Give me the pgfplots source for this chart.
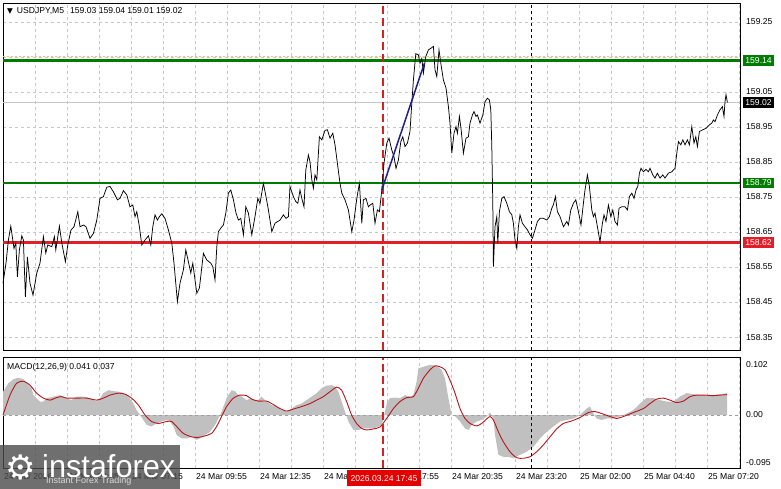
\documentclass[border=0pt]{standalone}
\usepackage{pgfplots}
\pgfplotsset{compat=1.18}
\usepackage{fontspec}
\setmainfont{Liberation Sans}
\newfontfamily\dejavu{DejaVu Sans}
\usepackage{graphicx}

\definecolor{gridc}{RGB}{200,200,200}
\definecolor{lvlgreen}{RGB}{0,125,0}
\definecolor{lvlred}{RGB}{228,30,40}
\definecolor{macdgray}{RGB}{192,192,192}
\definecolor{sigred}{RGB}{185,20,25}
\definecolor{trendblue}{RGB}{30,30,140}
\definecolor{cursorred}{RGB}{210,35,35}
\definecolor{logogray}{RGB}{75,75,75}

\pgfplotsset{
  mtpanel/.style={
    scale only axis, width=737pt,
    xmin=0, xmax=368.5,
    axis line style={black, line width=0.8pt},
    major tick length=0pt,
    xtick={0,16,...,368},
    grid style={gridc, dash pattern=on 3pt off 3pt, line width=0.6pt},
    xmajorgrids=true,
    yticklabel pos=right,
    yticklabel style={anchor=west, inner sep=0pt, xshift=6pt},
    clip=false,
  }
}

\begin{document}
\begin{tikzpicture}[font=\fontsize{8.6}{10}\selectfont]
\path[use as bounding box] (0,0) rectangle (781pt,-489pt);

% price window
\begin{axis}[mtpanel,
  at={(3pt,-3pt)}, anchor=north west, height=347pt,
  ymin=158.313, ymax=159.304,
  xticklabels={},
  ytick={158.35,158.45,158.55,158.65,158.75,158.85,158.95,159.05,159.15,159.25},
  yticklabels={158.35,158.45,158.55,158.65,158.75,158.85,158.95,159.05,,159.25},
  ymajorgrids=true,
]
% bid line and the faint line above the upper level
\addplot[gray!45, line width=0.5pt] coordinates {(0,159.02) (368.5,159.02)};
\addplot[orange!55, dash pattern=on 2pt off 2pt, line width=0.4pt] coordinates {(0,159.153) (368.5,159.153)};

% levels
\addplot[lvlgreen, line width=2.6pt] coordinates {(0,159.14) (368.5,159.14)};
\addplot[lvlgreen, line width=2.2pt] coordinates {(0,158.79) (368.5,158.79)};
\addplot[lvlred, line width=2.2pt] coordinates {(0,158.62) (368.5,158.62)};

% vertical markers
\addplot[color=cursorred, dash pattern=on 8pt off 4pt, line width=1.1pt] coordinates {(190,158.313) (190,159.304)};
\addplot[black, dash pattern=on 3pt off 3pt, line width=0.6pt] coordinates {(264,158.313) (264,159.304)};

% USDJPY M5 close
\addplot[black, line width=0.75pt] coordinates {
(0,158.504) (1.5,158.561) (2.7,158.627) (3.9,158.667) (4.9,158.627) (5.5,158.603) (6.4,158.619) (7.2,158.522) (8.2,158.599) (9.4,158.639)
(10.2,158.627) (11.2,158.465) (12.2,158.579) (13.5,158.504) (15,158.470) (16.9,158.533) (18.5,158.561) (20.2,158.637) (21.4,158.590) (22.4,158.613)
(24.4,158.608) (25.7,158.637) (26.4,158.599) (28.2,158.667) (29.4,158.619) (31.2,158.565) (32.4,158.613) (34,158.656) (35.5,158.665) (37.4,158.708)
(38.5,158.665) (40.2,158.670) (41.5,158.665) (43.5,158.632) (45.2,158.646) (46.9,158.684) (48.5,158.746) (50.2,158.751) (51.9,158.778) (53.5,158.780)
(55.2,158.765) (57.2,158.742) (58.5,158.746) (60.2,158.768) (61.9,158.756) (63.5,158.722) (64.9,158.727) (66,158.694) (66.9,158.708) (68.2,158.665)
(69.4,158.613) (71,158.627) (72.7,158.639) (73.9,158.613) (74.9,158.665) (76,158.699) (77.2,158.684) (78.2,158.694) (79.4,158.702) (81,158.689)
(82.7,158.656) (84.4,158.618) (85.5,158.561) (87.2,158.451) (88.5,158.504) (90.2,158.542) (91.4,158.599) (92.7,158.565) (93.9,158.533) (94.9,158.561)
(96.9,158.475) (98.2,158.490) (100.2,158.589) (101.9,158.570) (103.9,158.561) (104.9,158.551) (106,158.513) (106.9,158.608) (107.7,158.651) (108.9,158.661)
(110.2,158.670) (111.4,158.704) (112.7,158.761) (113.9,158.770) (115.2,158.742) (116.5,158.704) (117.7,158.684) (118.9,158.689) (120.2,158.642) (121.4,158.722)
(122.7,158.704) (124.4,158.642) (126,158.694) (127.4,158.746) (128.5,158.732) (130.2,158.789) (131.5,158.751) (132.7,158.713) (134.4,158.651) (136,158.675)
(138.5,158.684) (140.2,158.699) (141.5,158.689) (142.7,158.694) (143.5,158.780) (145.2,158.751) (146.4,158.737) (147.4,158.732) (148.5,158.770) (149.4,158.746)
(150.5,158.722) (151.4,158.827) (152.7,158.870) (153.5,158.851) (154.4,158.799) (155.2,158.775) (156,158.813) (156.9,158.799) (158.2,158.922) (159.4,158.913)
(161,158.940) (162.2,158.942) (163.5,158.918) (164.9,158.932) (166,158.899) (167.2,158.846) (168.5,158.789) (169.4,158.761) (171,158.742) (172.7,158.713)
(174.4,158.651) (175.5,158.684) (176.9,158.746) (178.2,158.789) (179.4,158.675) (180.2,158.742) (181.5,158.746) (182.7,158.722) (183.5,158.727) (184.9,158.732)
(186,158.675) (187.2,158.713) (188.2,158.708) (189.4,158.770) (190.5,158.846) (191.9,158.904) (193,158.918) (194.4,158.884) (195.5,158.865) (196.5,158.832)
(197.7,158.856) (198.9,158.908) (199.9,158.922) (201,158.894) (202.2,158.904) (203.5,158.937) (204.4,159.018) (205.2,159.084) (206.4,159.159) (207.7,159.156)
(208.5,159.132) (209.4,159.146) (210.2,159.104) (211.4,159.151) (212.7,159.170) (214,159.175) (215.2,159.180) (216,159.113) (216.9,159.094) (218,159.170)
(218.9,159.132) (220.2,159.084) (221.5,159.061) (222.7,159.008) (223.5,158.961) (224.4,158.875) (225.5,158.932) (226.5,158.951) (227.2,158.932) (228.2,158.980)
(229,158.946) (230.2,158.875) (231.5,158.918) (232.7,158.922) (233.5,158.961) (234.7,158.984) (235.5,158.994) (236.5,158.980) (237.2,158.984) (238.5,158.961)
(239.9,158.984) (241,159.022) (242.2,159.032) (243.2,159.027) (243.9,158.999) (244.4,158.894) (244.9,158.732) (245.2,158.551) (246,158.665) (246.9,158.694)
(247.4,158.618) (248.2,158.708) (249.4,158.746) (250.5,158.751) (251.9,158.732) (253.2,158.708) (254.4,158.699) (255.2,158.675) (256,158.627) (256.9,158.603)
(257.7,158.665) (258.5,158.699) (259.7,158.675) (261,158.665) (262.2,158.656) (263.5,158.642) (264.7,158.632) (266,158.656) (267.2,158.680) (268.5,158.689)
(270.2,158.689) (271.9,158.684) (273.2,158.694) (274.4,158.718) (275.2,158.728) (276.2,158.751) (277.2,158.708) (278.5,158.694) (280.2,158.665) (281.9,158.680)
(282.7,158.670) (283.9,158.713) (285.2,158.732) (286.4,158.742) (287.7,158.708) (289,158.670) (290.2,158.732) (291,158.770) (292.2,158.813) (293.2,158.780)
(294.4,158.713) (295.2,158.694) (296,158.704) (297.2,158.665) (298.5,158.622) (299.7,158.675) (300.5,158.699) (301.5,158.680) (302.7,158.727) (303.9,158.694)
(304.9,158.713) (306,158.680) (307.2,158.670) (308,158.718) (309.4,158.722) (311,158.722) (312.2,158.713) (313.2,158.751) (314.4,158.761) (315.5,158.746)
(316.5,158.770) (317.4,158.780) (318.2,158.818) (319,158.832) (320.2,158.822) (321.5,158.829) (322.7,158.822) (323.5,158.832) (324.9,158.813) (326,158.804)
(327.2,158.818) (328.5,158.804) (329.9,158.813) (331,158.804) (332.7,158.818) (334.4,158.822) (336,158.832) (336.9,158.875) (337.7,158.908) (338.9,158.899)
(339.9,158.913) (341,158.899) (342.2,158.913) (343.2,158.899) (344.4,158.951) (345.5,158.904) (346.4,158.922) (347.2,158.894) (348.2,158.937) (349.9,158.942)
(351.5,158.946) (353.2,158.956) (354.4,158.961) (355.2,158.970) (356,158.965) (357.2,158.984) (358.5,158.999) (359.7,159.008) (360.5,158.980) (361,159.022)
(361.5,159.042) (362.2,159.020)
};

% trend line
\addplot[trendblue, line width=1.5pt] coordinates {(189.4,158.770) (210.7,159.132)};

% price tags on the scale
\node[fill=lvlgreen, text=white, anchor=west, inner xsep=2.5pt, inner ysep=0pt, minimum height=10.5pt, xshift=2.7pt] at (axis cs:368.5,159.14) {159.14};
\node[fill=lvlgreen, text=white, anchor=west, inner xsep=2.5pt, inner ysep=0pt, minimum height=10.5pt, xshift=2.7pt] at (axis cs:368.5,158.79) {158.79};
\node[fill=lvlred, text=white, anchor=west, inner xsep=2.5pt, inner ysep=0pt, minimum height=10.5pt, xshift=2.7pt] at (axis cs:368.5,158.62) {158.62};
\node[fill=black, text=white, anchor=west, inner xsep=2.5pt, inner ysep=0pt, minimum height=10.5pt, xshift=2.7pt] at (axis cs:368.5,159.02) {159.02};

% window title
\node[anchor=north west, inner sep=0pt, xshift=4pt, yshift=-4pt] at (rel axis cs:0,1)
  {{\dejavu\fontsize{7.5}{7.5}\selectfont ▼}\hspace{4pt}USDJPY,M5\hspace{6pt}159.03 159.04 159.01 159.02};
\end{axis}

% MACD window
\begin{axis}[mtpanel,
  at={(3pt,-357.7pt)}, anchor=north west, height=110.6pt,
  ymin=-0.1072, ymax=0.1153,
  ytick={-0.095,0,0.102},
  yticklabels={-0.095,0.00,0.102},
  xticklabels={24 Mar 2026,,24 Mar 04:35,,24 Mar 07:15,,24 Mar 09:55,,24 Mar 12:35,,24 Mar 15:15,,24 Mar 17:55,,24 Mar 20:35,,24 Mar 23:20,,25 Mar 02:00,,25 Mar 04:40,,25 Mar 07:20,},
  xticklabel style={anchor=north west, inner sep=0pt, xshift=1pt, yshift=-5pt},
]
% MACD main (histogram)
\addplot[fill=macdgray, draw=none] coordinates {
(0,0.047) (2.7,0.064) (5.2,0.072) (7.7,0.075) (10.2,0.072) (12.7,0.060) (14.3,0.054) (15.2,0.040) (16.8,0.034) (18.5,0.027)
(20.2,0.027) (21.8,0.034) (25.2,0.037) (28.5,0.040) (31.8,0.034) (34.3,0.030) (36.8,0.037) (40.2,0.037) (43.5,0.034) (46.8,0.027)
(48.5,0.034) (50.2,0.044) (52.7,0.050) (55.2,0.048) (57.7,0.047) (60.2,0.044) (62.7,0.037) (65.2,0.023) (66.8,0.010) (68.5,0)
(70.2,-0.010) (71.8,-0.020) (74.3,-0.023) (76.8,-0.017) (79.3,-0.013) (81.8,-0.010) (83.5,-0.013) (85.2,-0.023) (86.8,-0.040) (89.3,-0.047)
(91.8,-0.047) (94.3,-0.044) (96.8,-0.050) (98.5,-0.047) (101,-0.040) (103.5,-0.034) (106,-0.020) (107.7,-0.007) (109.3,0.007) (111.8,0.034)
(114.3,0.050) (116,0.048) (117.7,0.040) (119.3,0.037) (121.8,0.030) (124.3,0.034) (126.8,0.027) (129.3,0.037) (131.8,0.027) (134.3,0.020)
(136.8,0.017) (139.3,0.010) (141.8,0.007) (144.3,0.013) (146.8,0.020) (149.3,0.023) (151.8,0.030) (154.3,0.037) (156.8,0.044) (159.3,0.054)
(161.8,0.059) (164.3,0.060) (166,0.057) (167.7,0.047) (169.3,0.027) (171,0.007) (172.7,-0.013) (175.2,-0.030) (177.7,-0.030) (180.2,-0.027)
(182.7,-0.027) (185.2,-0.027) (187.7,-0.023) (189,-0.020) (190,-0.012) (191,0.008) (192,0.025) (193.5,0.034) (196,0.035) (198.5,0.034)
(201,0.040) (203.5,0.037) (205.2,0.040) (206.8,0.067) (207.7,0.094) (210.2,0.097) (213.5,0.101) (216.8,0.099) (219.3,0.091) (221,0.074)
(222.7,0.034) (224.3,0) (226,-0.002) (228.5,-0.013) (231,-0.027) (232.7,-0.030) (234.3,-0.020) (236.8,-0.013) (239.3,-0.010) (241.8,-0.003)
(243.5,0.005) (245.2,-0.007) (246,-0.040) (247.7,-0.080) (250.2,-0.084) (252.7,-0.084) (255.2,-0.087) (258.5,-0.080) (261.8,-0.074) (265.2,-0.064)
(268.5,-0.047) (271.8,-0.034) (275.2,-0.023) (278.5,-0.013) (281.8,-0.010) (285.2,-0.007) (288.5,0) (291.8,0.013) (293.5,0.017) (295.2,0.003)
(296.8,-0.007) (299.3,-0.010) (301.8,-0.007) (305.2,-0.007) (308.5,-0.003) (311.8,0.003) (315.2,0.010) (318.5,0.023) (321.8,0.034) (325.2,0.034)
(328.5,0.030) (331.8,0.027) (335.2,0.027) (338.5,0.037) (341.8,0.044) (345.2,0.042) (348.5,0.040) (351.8,0.040) (355.2,0.040) (358.5,0.042)
(362,0.044)
} \closedcycle;

\addplot[gray!75, dash pattern=on 3pt off 3pt, line width=0.6pt] coordinates {(0,0) (368.5,0)};

% signal line
\addplot[sigred, line width=0.9pt, smooth, tension=0.4] coordinates {
(0,0.0) (3.5,0.040) (6.8,0.064) (10.2,0.068) (13.5,0.060) (16.8,0.044) (20.2,0.034) (23.5,0.030) (26.8,0.035) (29.3,0.037)
(31.8,0.034) (36.8,0.034) (41.8,0.034) (46.8,0.030) (50.2,0.034) (53.5,0.040) (57.7,0.044) (61,0.042) (64.3,0.034) (67.7,0.020)
(71,0) (74.3,-0.013) (77.7,-0.017) (81.8,-0.013) (84.3,-0.013) (86.8,-0.023) (90.2,-0.037) (94.3,-0.044) (97.7,-0.045) (101,-0.042)
(104.3,-0.037) (106.8,-0.023) (109.3,-0.003) (111.8,0.017) (115.2,0.034) (118.5,0.040) (121.8,0.039) (124.3,0.032) (127.7,0.028) (131.8,0.028)
(135.2,0.021) (138.5,0.013) (141.8,0.008) (145.2,0.012) (149.3,0.017) (153.5,0.023) (156.8,0.030) (160.2,0.037) (163.5,0.047) (166.8,0.056)
(169.3,0.050) (171.8,0.027) (174.3,0) (176.8,-0.017) (179.3,-0.027) (181.8,-0.030) (185.2,-0.028) (188.5,-0.024) (191.8,-0.007) (195.2,0.013)
(198.5,0.027) (201.8,0.035) (205.2,0.037) (207.7,0.054) (210.2,0.074) (213.5,0.091) (216,0.099) (218.5,0.097) (221,0.091) (223.5,0.070)
(226,0.044) (228.5,0.013) (231,-0.007) (233.5,-0.017) (236.8,-0.022) (239.3,-0.017) (241.8,-0.008) (243.5,-0.003) (245.2,-0.010) (247.7,-0.034)
(250.2,-0.054) (253.5,-0.074) (256.8,-0.086) (260.2,-0.087) (263.5,-0.084) (266.8,-0.074) (270.2,-0.060) (273.5,-0.044) (276.8,-0.028) (280.2,-0.017)
(284.3,-0.012) (288.5,-0.005) (292.7,0.005) (296,0.007) (299.3,0.003) (303.5,-0.003) (306.8,-0.007) (310.2,-0.003) (315.2,0.005) (320.2,0.013)
(323.5,0.023) (326.8,0.032) (330.2,0.034) (333.5,0.030) (336.8,0.025) (340.2,0.028) (343.5,0.037) (346.8,0.040) (351,0.040) (355.2,0.039)
(358.5,0.040) (362,0.041)
};

\addplot[color=cursorred, dash pattern=on 8pt off 4pt, line width=1.1pt] coordinates {(190,-0.1072) (190,0.1153)};
\addplot[black, dash pattern=on 3pt off 3pt, line width=0.6pt] coordinates {(264,-0.1072) (264,0.1153)};

\node[anchor=north west, inner sep=0pt, xshift=4pt, yshift=-5pt] at (rel axis cs:0,1) {MACD(12,26,9) 0.041 0.037};

% cursor time tag
\node[fill=red!90!black, text=white, anchor=north, inner xsep=4pt, inner ysep=0pt, minimum height=16pt, yshift=-1.7pt] at (axis cs:190.5,-0.1072) {2026.03.24 17:45};
\end{axis}

% watermark
\fill[logogray, opacity=0.8] (0,-445pt) rectangle (180pt,-489pt);
\node[text=white, anchor=center] at (21pt,-467pt) {\dejavu\fontsize{34}{34}\selectfont ⚙};
\node[text=white, anchor=south west, inner sep=0pt] at (42pt,-478pt) {\resizebox{133pt}{23pt}{instaforex}};
\node[text=white!85!black, anchor=north west, inner sep=0pt] at (46pt,-477pt) {\fontsize{9}{10}\selectfont Instant Forex Trading};
\end{tikzpicture}
\end{document}
